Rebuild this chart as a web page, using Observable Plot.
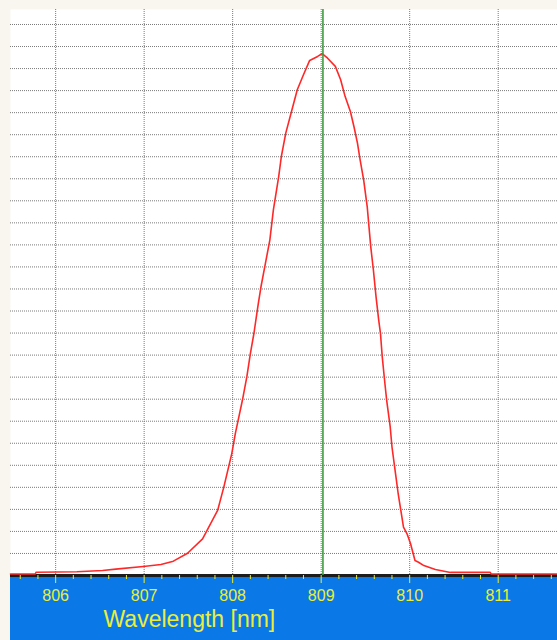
<!DOCTYPE html>
<html><head><meta charset="utf-8">
<script src="https://cdn.jsdelivr.net/npm/d3@7"></script>
<script src="https://cdn.jsdelivr.net/npm/@observablehq/plot@0.6"></script>
<style>
html,body{margin:0;padding:0;background:#f8f6ef;}
#chart svg{display:block;}
</style></head><body><div id="chart"></div>
<script>
const wavelength = [805.49, 805.77, 805.78, 806.24, 806.53, 806.68, 806.99, 807.19, 807.33, 807.49, 807.66, 807.83, 807.90, 807.99, 808.03, 808.11, 808.16, 808.20, 808.24, 808.29, 808.32, 808.37, 808.42, 808.46, 808.52, 808.55, 808.60, 808.67, 808.73, 808.80, 808.87, 808.96, 809.01, 809.07, 809.16, 809.22, 809.27, 809.33, 809.37, 809.41, 809.44, 809.48, 809.52, 809.54, 809.56, 809.59, 809.62, 809.65, 809.67, 809.69, 809.72, 809.74, 809.78, 809.80, 809.84, 809.87, 809.90, 809.93, 809.97, 810.01, 810.06, 810.10, 810.16, 810.29, 810.46, 810.91, 810.92, 811.67];
const intensity = [0.07, 0.07, 0.15, 0.17, 0.23, 0.29, 0.41, 0.50, 0.65, 1.01, 1.66, 2.95, 4.01, 5.53, 6.44, 7.95, 9.01, 10.07, 10.98, 12.35, 13.10, 14.16, 15.22, 16.59, 18.10, 19.01, 20.07, 21.13, 22.04, 22.72, 23.37, 23.55, 23.68, 23.48, 23.10, 22.49, 21.74, 21.05, 20.37, 19.62, 18.86, 17.95, 16.74, 15.83, 14.92, 13.86, 12.64, 11.59, 10.98, 9.92, 8.71, 7.95, 6.74, 5.83, 4.62, 3.71, 2.95, 2.19, 1.89, 1.44, 0.68, 0.60, 0.45, 0.27, 0.14, 0.14, 0.07, 0.07];
const peakWavelength = [809.02];
const majorTicks = [806, 807, 808, 809, 810, 811];
const minorTicks = [805.6, 805.8, 806.2, 806.4, 806.6, 806.8, 807.2, 807.4, 807.6, 807.8, 808.2, 808.4, 808.6, 808.8, 809.2, 809.4, 809.6, 809.8, 810.2, 810.4, 810.6, 810.8, 811.2, 811.4, 811.6];
const gridLevels = [1,2,3,4,5,6,7,8,9,10,11,12,13,14,15,16,17,18,19,20,21,22,23,24,25];
const xLabel = "Wavelength [nm]";

const data = wavelength.map((w, i) => ({w, v: intensity[i]}));
const yellow = "#e9ee3c";

const chart = Plot.plot({
  width: 557, height: 640,
  marginLeft: 10, marginRight: 0, marginTop: 9, marginBottom: 65,
  style: {
    background: "linear-gradient(to right, #f8f6ef 10px, transparent 10px), linear-gradient(to bottom, #f8f6ef 576px, #0a78e6 576px)",
    fontFamily: "'Liberation Sans', Arial, sans-serif",
    overflow: "visible"
  },
  x: {domain: [805.49, 811.67]},
  y: {domain: [0, 25.68], axis: null},
  marks: [
    Plot.frame({fill: "white", stroke: null}),
    Plot.ruleY(gridLevels, {stroke: "#7a7a7a", strokeDasharray: "1,1", strokeWidth: 1}),
    Plot.ruleX(majorTicks, {stroke: "#7a7a7a", strokeDasharray: "1,1", strokeWidth: 1}),
    Plot.ruleY([0], {stroke: "#1c1c1c", strokeWidth: 3}),
    Plot.line(data, {x: "w", y: "v", stroke: "#ff2828", strokeWidth: 1.6}),
    Plot.ruleX(peakWavelength, {stroke: "#3e9b3e", strokeWidth: 1.6}),
    Plot.axisX(minorTicks, {tickSize: 4, tickFormat: () => "", label: null, stroke: yellow, color: yellow}),
    Plot.axisX(majorTicks, {tickSize: 8, tickPadding: 6, tickFormat: d => String(d), fontSize: 16, label: null, color: yellow}),
    Plot.text([xLabel], {frameAnchor: "bottom-left", dx: 93, dy: 51, textAnchor: "start", lineAnchor: "bottom", fontSize: 23, fill: yellow})
  ]
});
document.getElementById("chart").appendChild(chart);
</script>
</body></html>
